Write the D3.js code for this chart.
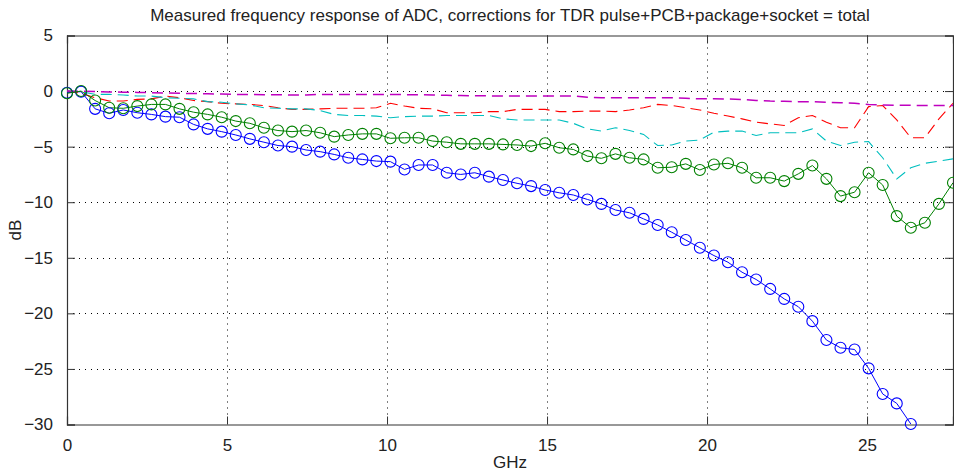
<!DOCTYPE html>
<html><head><meta charset="utf-8">
<script src="https://cdn.jsdelivr.net/npm/d3@7"></script>
<style>
body{margin:0;background:#fff}
svg text{font-family:"Liberation Sans",Arial,sans-serif;fill:#222}
</style>
</head><body>
<svg id="c" width="954" height="471"></svg>
<script>
const freqStep = 0.439453125;
const xTicks = [0, 5, 10, 15, 20, 25];
const yTicks = [5, 0, -5, -10, -15, -20, -25, -30];

// measured ADC response (blue, circles)
const measured = [-0.15, -0.05, -1.6, -2.0, -1.7, -1.95, -2.1, -2.3, -2.35, -3.0,
  -3.4, -3.65, -3.95, -4.3, -4.6, -4.9, -5.0, -5.3, -5.45, -5.7,
  -6.0, -6.15, -6.3, -6.35, -7.05, -6.65, -6.65, -7.35, -7.5, -7.35,
  -7.7, -8.0, -8.3, -8.55, -8.9, -9.15, -9.35, -9.75, -10.15, -10.7,
  -10.95, -11.5, -12.05, -12.7, -13.4, -14.1, -14.8, -15.4, -16.3, -16.95,
  -17.8, -18.7, -19.4, -20.7, -22.4, -23.1, -23.25, -24.95, -27.25, -28.1,
  -29.95];
// corrected total (green, circles)
const total = [-0.2, 0, -0.85, -1.5, -1.55, -1.35, -1.2, -1.2, -1.6, -1.9,
  -2.1, -2.35, -2.7, -2.9, -3.3, -3.55, -3.65, -3.55, -3.75, -4.1,
  -3.95, -3.85, -3.85, -4.25, -4.2, -4.2, -4.5, -4.6, -4.75, -4.75,
  -4.75, -4.8, -4.85, -4.95, -4.7, -5.1, -5.25, -5.85, -6.05, -5.65,
  -6.0, -6.15, -6.9, -6.85, -6.55, -7.1, -6.6, -6.5, -6.9, -7.8,
  -7.8, -8.1, -7.45, -6.7, -7.9, -9.45, -9.1, -7.35, -8.45, -11.25,
  -12.3, -11.85, -10.15, -8.25];
// correction: TDR pulse (red dashed)
const corrTdr = [0, -0.2, -0.6, -0.9, -0.9, -0.75, -0.7, -0.45, -0.6, -0.85,
  -0.95, -1.1, -1.15, -1.2, -1.3, -1.5, -1.65, -1.65, -1.6, -1.55,
  -1.55, -1.55, -1.5, -1.1, -1.35, -1.55, -1.6, -1.95, -1.95, -1.95,
  -1.85, -1.85, -1.65, -1.65, -1.65, -1.85, -1.85, -1.8, -1.8, -1.85,
  -1.7, -1.5, -1.2, -1.3, -1.5, -1.7, -2.0, -2.25, -2.5, -2.8,
  -2.95, -3.1, -2.4, -2.2, -2.8, -3.3, -3.3, -1.4, -1.3, -2.6,
  -4.2, -4.2, -2.5, -1.1];
// correction: PCB (cyan dashed)
const corrPcb = [0, -0.05, -0.3, -0.3, -0.35, -0.45, -0.45, -0.6, -0.65, -0.7,
  -0.95, -1.0, -1.15, -1.25, -1.5, -1.55, -1.6, -1.6, -1.75, -2.1,
  -2.2, -2.2, -2.25, -2.4, -2.3, -2.25, -2.25, -2.2, -2.2, -2.2,
  -2.2, -2.5, -2.6, -2.6, -2.6, -2.6, -2.9, -3.4, -3.6, -3.3,
  -3.55, -3.9, -4.9, -4.85, -4.5, -4.4, -3.7, -3.6, -3.6, -4.0,
  -3.75, -3.75, -3.75, -3.4, -4.5, -4.9, -4.6, -4.55, -6.0, -7.9,
  -6.9, -6.5, -6.3, -6.1];
// correction: package+socket (magenta dashed)
const corrPkg = [0, -0.02, -0.05, -0.08, -0.1, -0.12, -0.15, -0.17, -0.2, -0.22,
  -0.25, -0.27, -0.3, -0.3, -0.32, -0.33, -0.35, -0.35, -0.3, -0.3,
  -0.3, -0.3, -0.3, -0.3, -0.32, -0.33, -0.35, -0.38, -0.4, -0.42,
  -0.43, -0.45, -0.45, -0.45, -0.45, -0.45, -0.45, -0.55, -0.6, -0.6,
  -0.6, -0.6, -0.6, -0.6, -0.65, -0.7, -0.7, -0.72, -0.75, -0.85,
  -0.9, -0.92, -0.95, -0.95, -1.0, -1.05, -1.1, -1.2, -1.25, -1.27,
  -1.28, -1.3, -1.3, -1.3];

const titleText = "Measured frequency response of ADC, corrections for TDR pulse+PCB+package+socket = total";

const svg = d3.select("#c");
const L = 67, T = 35.5, R = 953, B = 424.5;
const xMax = 63 * freqStep;
const x = d3.scaleLinear().domain([0, xMax]).range([L, R]);
const y = d3.scaleLinear().domain([-30, 5]).range([B, T]);

const toPts = arr => arr.map((v, i) => [i * freqStep, v]);

svg.append("defs").append("clipPath").attr("id", "clip")
  .append("rect").attr("x", L).attr("y", T).attr("width", R - L).attr("height", B - T);

// grid
const g = svg.append("g");
g.selectAll("line.gx").data(xTicks.filter(d => d > 0)).enter().append("line")
  .attr("x1", d => Math.round(x(d)) + 0.5).attr("x2", d => Math.round(x(d)) + 0.5)
  .attr("y1", T).attr("y2", B)
  .attr("stroke", "#000").attr("stroke-width", 1).attr("stroke-dasharray", "1,5");
g.selectAll("line.gy").data(yTicks.filter(d => d < 5 && d > -30)).enter().append("line")
  .attr("y1", d => Math.round(y(d)) + 0.5).attr("y2", d => Math.round(y(d)) + 0.5)
  .attr("x1", L).attr("x2", R)
  .attr("stroke", "#000").attr("stroke-width", 1).attr("stroke-dasharray", "1,5");

// axes
const xAxB = d3.axisBottom(x).tickValues(xTicks).tickSize(-8).tickPadding(14).tickFormat(d3.format("d"));
const xAxT = d3.axisTop(x).tickValues(xTicks).tickSize(-8).tickFormat("");
const yAxL = d3.axisLeft(y).tickValues(yTicks).tickSize(-8).tickPadding(14).tickFormat(d3.format("d"));
const yAxR = d3.axisRight(y).tickValues(yTicks).tickSize(-8).tickFormat("");

function styleAx(sel) {
  sel.selectAll(".domain").attr("stroke", "#333").attr("stroke-width", 1.2);
  sel.selectAll(".tick line").attr("stroke", "#333");
  sel.selectAll(".tick text").attr("fill", "#222").style("font-size", "17px")
     .style("font-family", '"Liberation Sans",Arial,sans-serif');
}
svg.append("g").attr("transform", `translate(0,${B})`).call(xAxB).call(styleAx);
svg.append("g").attr("transform", `translate(0,${T})`).call(xAxT).call(styleAx);
svg.append("g").attr("transform", `translate(${L},0)`).call(yAxL).call(styleAx);
svg.append("g").attr("transform", `translate(${R},0)`).call(yAxR).call(styleAx);

const line = d3.line().x(d => x(d[0])).y(d => y(d[1]));
const plot = svg.append("g").attr("clip-path", "url(#clip)");

function drawLine(arr, color, dash, w) {
  plot.append("path").datum(toPts(arr)).attr("d", line)
    .attr("fill", "none").attr("stroke", color).attr("stroke-width", w)
    .attr("stroke-dasharray", dash);
}
function drawMarkers(arr, color) {
  svg.append("g").selectAll("circle").data(toPts(arr)).enter().append("circle")
    .attr("cx", d => x(d[0])).attr("cy", d => y(d[1])).attr("r", 5.5)
    .attr("fill", "none").attr("stroke", color).attr("stroke-width", 1.1);
}

drawLine(measured, "#0000ff", null, 1);
drawMarkers(measured, "#0000ff");
drawLine(corrTdr, "#ff0000", "11,6", 1.1);
drawLine(corrPcb, "#00bfbf", "11,6", 1.1);
drawLine(corrPkg, "#bf00bf", "11,6", 1.5);
drawLine(total, "#008000", null, 1);
drawMarkers(total, "#008000");

svg.append("text").attr("x", (L + R) / 2).attr("y", 21).attr("text-anchor", "middle")
  .style("font-size", "17px").text(titleText);
svg.append("text").attr("x", (L + R) / 2).attr("y", 468).attr("text-anchor", "middle")
  .style("font-size", "17px").text("GHz");
svg.append("text").attr("transform", `translate(21,${(T + B) / 2}) rotate(-90)`)
  .attr("text-anchor", "middle").style("font-size", "17px").text("dB");
</script>
</body></html>
